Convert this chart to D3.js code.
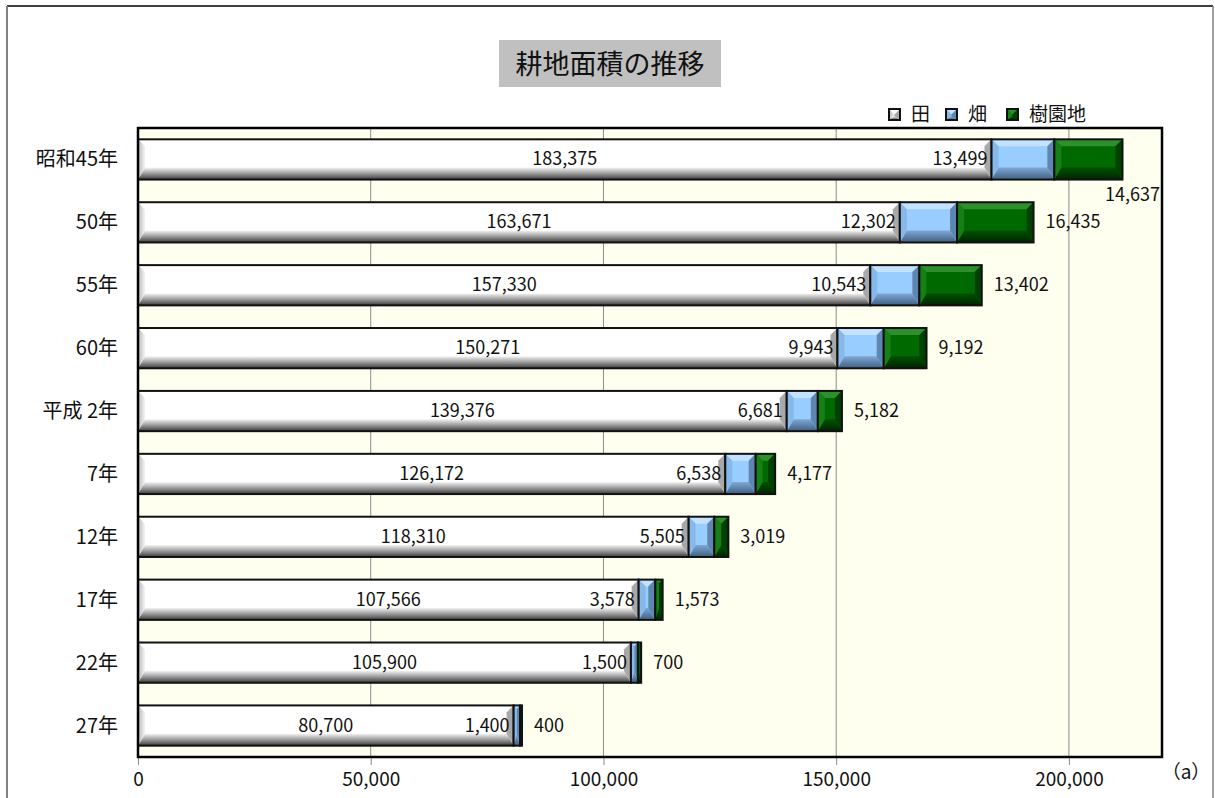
<!DOCTYPE html>
<html lang="ja">
<head>
<meta charset="UTF-8">
<title>耕地面積の推移</title>
<script src="https://d3js.org/d3.v7.min.js"></script>
<style>
  body { margin: 0; background: #fff; }
  svg text { font-family: "Noto Sans CJK JP", "Noto Sans", sans-serif; fill: #111; }
</style>
</head>
<body>
<div id="chart"></div>
<script>
const years = ["昭和45年", "50年", "55年", "60年", "平成 2年", "7年", "12年", "17年", "22年", "27年"];
const ta = [183375, 163671, 157330, 150271, 139376, 126172, 118310, 107566, 105900, 80700];
const hata = [13499, 12302, 10543, 9943, 6681, 6538, 5505, 3578, 1500, 1400];
const juen = [14637, 16435, 13402, 9192, 5182, 4177, 3019, 1573, 700, 400];
const seriesNames = ["田", "畑", "樹園地"];
const xTicks = [0, 50000, 100000, 150000, 200000];

const width = 1215, height = 798;
const plot = { left: 138, right: 1162, top: 128, bottom: 757 };

const svg = d3.select("#chart").append("svg")
  .attr("width", width).attr("height", height);

// chart frame
svg.append("line").attr("x1", 7).attr("x2", 1213).attr("y1", 6).attr("y2", 6)
  .attr("stroke", "#000").attr("stroke-width", 1.5);
svg.append("line").attr("x1", 7).attr("x2", 7).attr("y1", 6).attr("y2", 798)
  .attr("stroke", "#808080").attr("stroke-width", 2);
svg.append("line").attr("x1", 1213).attr("x2", 1213).attr("y1", 6).attr("y2", 798)
  .attr("stroke", "#808080").attr("stroke-width", 1.5);

// title
svg.append("rect").attr("x", 499).attr("y", 40).attr("width", 222).attr("height", 47).attr("fill", "#c0c0c0");
svg.append("text").attr("x", 610).attr("y", 74).attr("text-anchor", "middle")
  .attr("font-size", 27).attr("font-weight", 400).text("耕地面積の推移");

const x = d3.scaleLinear().domain([0, 220000]).range([plot.left, plot.right]);
const y = d3.scaleBand().domain(years).range([plot.top, plot.bottom]).paddingInner(0.36).paddingOuter(0.18);

// gradients
const defs = svg.append("defs");
function vgrad(id, stops) {
  const g = defs.append("linearGradient").attr("id", id).attr("x1", 0).attr("x2", 0).attr("y1", 0).attr("y2", 1);
  stops.forEach(s => g.append("stop").attr("offset", s[0]).attr("stop-color", s[1]));
}
function hgrad(id, stops) {
  const g = defs.append("linearGradient").attr("id", id).attr("x1", 0).attr("x2", 1).attr("y1", 0).attr("y2", 0);
  stops.forEach(s => g.append("stop").attr("offset", s[0]).attr("stop-color", s[1]));
}
vgrad("taBottom", [[0, "#f4f4f4"], [0.5, "#9a9a9a"], [1, "#3a3a3a"]]);
hgrad("taLeft", [[0, "#b8b8b8"], [1, "#f4f4f4"]]);
vgrad("haBottom", [[0, "#7fa8d4"], [1, "#3f5f84"]]);
vgrad("juBottom", [[0, "#005200"], [1, "#002400"]]);

const styles = [
  { base: "#ffffff", top: "#ffffff", left: "url(#taLeft)", bottom: "url(#taBottom)", right: "#a8a8a8" },
  { base: "#99ccff", top: "#c4e2ff", left: "#86b8ea", bottom: "url(#haBottom)", right: "#5f86b0" },
  { base: "#006a00", top: "#2f8f2f", left: "#158015", bottom: "url(#juBottom)", right: "#004000" }
];

// plot background
svg.append("rect").attr("x", plot.left).attr("y", plot.top)
  .attr("width", plot.right - plot.left).attr("height", plot.bottom - plot.top)
  .attr("fill", "#fffff0");

// gridlines + ticks
svg.selectAll(".grid").data(xTicks.slice(1)).join("line")
  .attr("x1", d => x(d)).attr("x2", d => x(d))
  .attr("y1", plot.top).attr("y2", plot.bottom)
  .attr("stroke", "#8c8c8c").attr("stroke-width", 1);

const axis = d3.axisBottom(x).tickValues(xTicks).tickFormat(d3.format(",")).tickSize(8).tickPadding(8);
const ax = svg.append("g").attr("transform", `translate(0,${plot.bottom})`).call(axis);
ax.select(".domain").remove();
ax.selectAll("line").attr("stroke", "#8c8c8c");
ax.selectAll("text").attr("font-size", 19).attr("font-family", "\"Noto Sans CJK JP\", sans-serif").attr("fill", "#111");

svg.append("text").attr("x", 1186).attr("y", 779).attr("text-anchor", "middle")
  .attr("font-size", 19).text("（a）");

// stacked data
const rows = years.map((yr, i) => ({ year: yr, vals: [ta[i], hata[i], juen[i]] }));

function bevelBar(g, x0, x1, y0, h, st) {
  const w = x1 - x0;
  const b = Math.min(7, w / 2);
  const bb = Math.min(12, h / 3);
  g.append("rect").attr("x", x0).attr("y", y0).attr("width", w).attr("height", h).attr("fill", st.base);
  g.append("polygon").attr("points", [[x0, y0], [x1, y0], [x1 - b, y0 + b], [x0 + b, y0 + b]].join(" ")).attr("fill", st.top);
  g.append("polygon").attr("points", [[x0, y0 + h], [x1, y0 + h], [x1 - b, y0 + h - bb], [x0 + b, y0 + h - bb]].join(" ")).attr("fill", st.bottom);
  g.append("polygon").attr("points", [[x0, y0], [x0 + b, y0 + b], [x0 + b, y0 + h - bb], [x0, y0 + h]].join(" ")).attr("fill", st.left);
  g.append("polygon").attr("points", [[x1, y0], [x1 - b, y0 + b], [x1 - b, y0 + h - bb], [x1, y0 + h]].join(" ")).attr("fill", st.right);
  g.append("rect").attr("x", x0).attr("y", y0).attr("width", w).attr("height", h)
    .attr("fill", "none").attr("stroke", "#111").attr("stroke-width", 2);
}

const barG = svg.append("g");
rows.forEach(r => {
  let cum = 0;
  r.vals.forEach((v, k) => {
    const g = barG.append("g");
    bevelBar(g, x(cum), x(cum + v), y(r.year), y.bandwidth(), styles[k]);
    cum += v;
  });
});

// plot border
svg.append("rect").attr("x", plot.left).attr("y", plot.top)
  .attr("width", plot.right - plot.left).attr("height", plot.bottom - plot.top)
  .attr("fill", "none").attr("stroke", "#000").attr("stroke-width", 2.5);

// data labels
const fmt = d3.format(",");
const lab = svg.append("g").attr("font-size", 18);
rows.forEach(r => {
  const cy = y(r.year) + y.bandwidth() / 2 + 6;
  const e1 = x(r.vals[0]);
  const e3 = x(r.vals[0] + r.vals[1] + r.vals[2]);
  lab.append("text").attr("x", (x(0) + e1) / 2).attr("y", cy).attr("text-anchor", "middle").text(fmt(r.vals[0]));
  lab.append("text").attr("x", e1 - 4).attr("y", cy).attr("text-anchor", "end").text(fmt(r.vals[1]));
  if (e3 + 70 > plot.right) {
    lab.append("text").attr("x", plot.right - 2).attr("y", cy + 36).attr("text-anchor", "end").text(fmt(r.vals[2]));
  } else {
    lab.append("text").attr("x", e3 + 12).attr("y", cy).attr("text-anchor", "start").text(fmt(r.vals[2]));
  }
});

// category labels
svg.append("g").selectAll("text").data(years).join("text")
  .attr("x", 118).attr("y", d => y(d) + y.bandwidth() / 2 + 7)
  .attr("text-anchor", "end").attr("font-size", 20).text(d => d);

// legend
const legX = [889, 946, 1007];
const leg = svg.append("g");
seriesNames.forEach((n, k) => {
  const g = leg.append("g");
  bevelBar(g, legX[k], legX[k] + 11, 109, 11, styles[k]);
  leg.append("text").attr("x", legX[k] + 22).attr("y", 121).attr("font-size", 19).text(n);
});
</script>
</body>
</html>
